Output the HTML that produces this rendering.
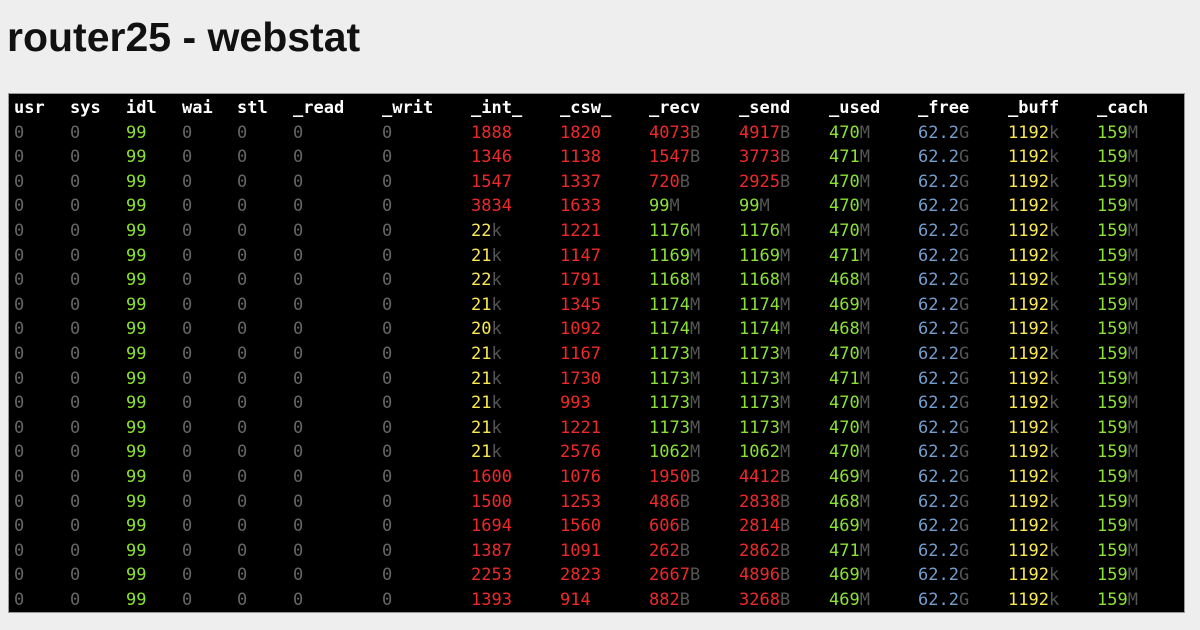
<!DOCTYPE html>
<html><head><meta charset="utf-8"><style>
body{margin:0;width:1200px;height:630px;background:#eeeeee;overflow:hidden;position:relative;font-family:"Liberation Sans",sans-serif}
h1{position:absolute;left:7px;top:14px;margin:0;font-size:41px;font-weight:bold;color:#111;letter-spacing:0px}
#term{position:absolute;left:8px;top:93px;width:1177px;height:520px;background:#000;border:1px solid #999;box-sizing:border-box}
.c{position:absolute;font-family:"DejaVu Sans Mono","Liberation Mono",monospace;font-size:17px;white-space:pre;line-height:20px}
.h{color:#fff;font-weight:bold}
.u{color:#555}
</style></head><body>
<h1>router25 - webstat</h1>
<div id="term"></div>
<script>
const headers=["usr","sys","idl","wai","stl","_read","_writ","_int_","_csw_","_recv","_send","_used","_free","_buff","_cach"];
const colX=[5,61,117,173,228,284,373,462,551,640,730,820,909,999,1088];
const colDefault=["#666","#666","#8ae234","#666","#666","#666","#666","#ef2929","#ef2929","#ef2929","#ef2929","#8ae234","#729fcf","#fce94f","#8ae234"];
const rows=[
["0","0","99","0","0","0","0","1888","1820","4073B","4917B","470M","62.2G","1192k","159M"],
["0","0","99","0","0","0","0","1346","1138","1547B","3773B","471M","62.2G","1192k","159M"],
["0","0","99","0","0","0","0","1547","1337","720B","2925B","470M","62.2G","1192k","159M"],
["0","0","99","0","0","0","0","3834","1633","99M","99M","470M","62.2G","1192k","159M"],
["0","0","99","0","0","0","0","22k","1221","1176M","1176M","470M","62.2G","1192k","159M"],
["0","0","99","0","0","0","0","21k","1147","1169M","1169M","471M","62.2G","1192k","159M"],
["0","0","99","0","0","0","0","22k","1791","1168M","1168M","468M","62.2G","1192k","159M"],
["0","0","99","0","0","0","0","21k","1345","1174M","1174M","469M","62.2G","1192k","159M"],
["0","0","99","0","0","0","0","20k","1092","1174M","1174M","468M","62.2G","1192k","159M"],
["0","0","99","0","0","0","0","21k","1167","1173M","1173M","470M","62.2G","1192k","159M"],
["0","0","99","0","0","0","0","21k","1730","1173M","1173M","471M","62.2G","1192k","159M"],
["0","0","99","0","0","0","0","21k","993","1173M","1173M","470M","62.2G","1192k","159M"],
["0","0","99","0","0","0","0","21k","1221","1173M","1173M","470M","62.2G","1192k","159M"],
["0","0","99","0","0","0","0","21k","2576","1062M","1062M","470M","62.2G","1192k","159M"],
["0","0","99","0","0","0","0","1600","1076","1950B","4412B","469M","62.2G","1192k","159M"],
["0","0","99","0","0","0","0","1500","1253","486B","2838B","468M","62.2G","1192k","159M"],
["0","0","99","0","0","0","0","1694","1560","606B","2814B","469M","62.2G","1192k","159M"],
["0","0","99","0","0","0","0","1387","1091","262B","2862B","471M","62.2G","1192k","159M"],
["0","0","99","0","0","0","0","2253","2823","2667B","4896B","469M","62.2G","1192k","159M"],
["0","0","99","0","0","0","0","1393","914","882B","3268B","469M","62.2G","1192k","159M"]
];
const unitColor={k:"#fce94f",B:"#ef2929",M:"#8ae234",G:"#729fcf"};
const term=document.getElementById('term');
const rowH=24.6, top0=4;
headers.forEach((h,i)=>{
  const s=document.createElement('span');
  
  
  s.className='c h';s.textContent=h;
  s.style.left=colX[i]+'px';s.style.top=top0+'px';
  term.appendChild(s);
});
rows.forEach((r,ri)=>{
  r.forEach((v,ci)=>{
    const s=document.createElement('span');
    
    
    s.className='c';
    s.style.left=colX[ci]+'px';s.style.top=(top0+rowH*(ri+1))+'px';
    const last=v.slice(-1);
    if(unitColor[last]){
      s.style.color=unitColor[last];
      s.textContent=v.slice(0,-1);
      const u=document.createElement('span');u.className='u';u.textContent=last;s.appendChild(u);
    }else{s.style.color=colDefault[ci];s.textContent=v;}
    term.appendChild(s);
  });
});
</script>
</body></html>
